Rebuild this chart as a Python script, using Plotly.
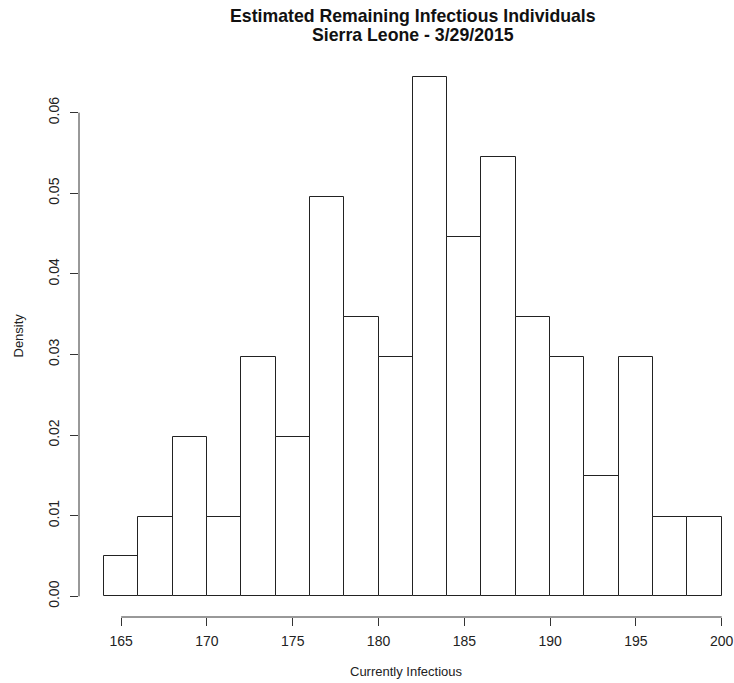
import plotly.graph_objects as go

bin_left = [164, 166, 168, 170, 172, 174, 176, 178, 180, 182, 184, 186, 188, 190, 192, 194, 196, 198]
density = [0.00495, 0.0099, 0.0198, 0.0099, 0.0297, 0.0198, 0.0495, 0.0347, 0.0297, 0.0644,
           0.0446, 0.0545, 0.0347, 0.0297, 0.0149, 0.0297, 0.0099, 0.0099]
bin_width = 2
x_ticks = [165, 170, 175, 180, 185, 190, 195, 200]
y_ticks = [0.0, 0.01, 0.02, 0.03, 0.04, 0.05, 0.06]
y_tick_text = ["0.00", "0.01", "0.02", "0.03", "0.04", "0.05", "0.06"]
title_lines = ["Estimated Remaining Infectious Individuals", "Sierra Leone - 3/29/2015"]
x_title = "Currently Infectious"
y_title = "Density"

centers = [b + bin_width / 2 for b in bin_left]

fig = go.Figure()
fig.add_trace(go.Bar(
    x=centers, y=density, width=[bin_width] * len(centers),
    marker=dict(color="white", line=dict(color="#222222", width=1)),
    showlegend=False, hoverinfo="skip",
))

font = "Liberation Sans, Arial, Helvetica, sans-serif"
fig.update_layout(
    width=734, height=683,
    margin=dict(l=79, r=0, t=56, b=66, autoexpand=False),
    paper_bgcolor="white", plot_bgcolor="white",
    bargap=0,
    font=dict(family=font, size=13, color="#222222"),
    xaxis=dict(
        range=[162.543, 200.717], showgrid=False, zeroline=False, showline=False,
        automargin=False, fixedrange=True,
        tickmode="array", tickvals=x_ticks, ticks="outside", ticklen=8,
        tickcolor="#333333", tickfont=dict(size=14), ticklabelstandoff=3,
    ),
    yaxis=dict(
        range=[-0.002568, 0.06703], showgrid=False, zeroline=False, showline=False,
        automargin=False, fixedrange=True,
        tickmode="array", tickvals=y_ticks, ticktext=y_tick_text, tickangle=-90,
        ticks="outside", ticklen=8, tickcolor="#333333", tickfont=dict(size=14),
        ticklabelstandoff=5,
    ),
)

fig.add_shape(type="line", xref="x", yref="paper", x0=x_ticks[0], x1=x_ticks[-1], y0=0, y1=0,
              line=dict(color="#333333", width=1))
fig.add_shape(type="line", xref="paper", yref="y", x0=0, x1=0, y0=y_ticks[0], y1=y_ticks[-1],
              line=dict(color="#333333", width=1))

plot_top, plot_bottom, plot_left, plot_w = 56, 617, 79, 655
def py(p):
    return (plot_bottom - p) / (plot_bottom - plot_top)
def px(p):
    return (p - plot_left) / plot_w

for txt, ypix in zip(title_lines, [16, 35]):
    fig.add_annotation(text="<b>" + txt + "</b>", xref="paper", yref="paper",
                       x=px(412.5), y=py(ypix), xanchor="center", yanchor="middle",
                       showarrow=False, font=dict(family=font, size=17.7, color="#111111"))
fig.add_annotation(text=x_title, xref="paper", yref="paper", x=px(406), y=py(671),
                   xanchor="center", yanchor="middle", showarrow=False,
                   font=dict(family=font, size=13, color="#222222"))
fig.add_annotation(text=y_title, xref="paper", yref="paper", x=px(17.5), y=py(335),
                   xanchor="center", yanchor="middle", textangle=-90, showarrow=False,
                   font=dict(family=font, size=13, color="#222222"))

fig.write_html("out.html", config={"displayModeBar": False},
               post_script="document.body.style.margin='0px';document.body.style.overflow='hidden';")
